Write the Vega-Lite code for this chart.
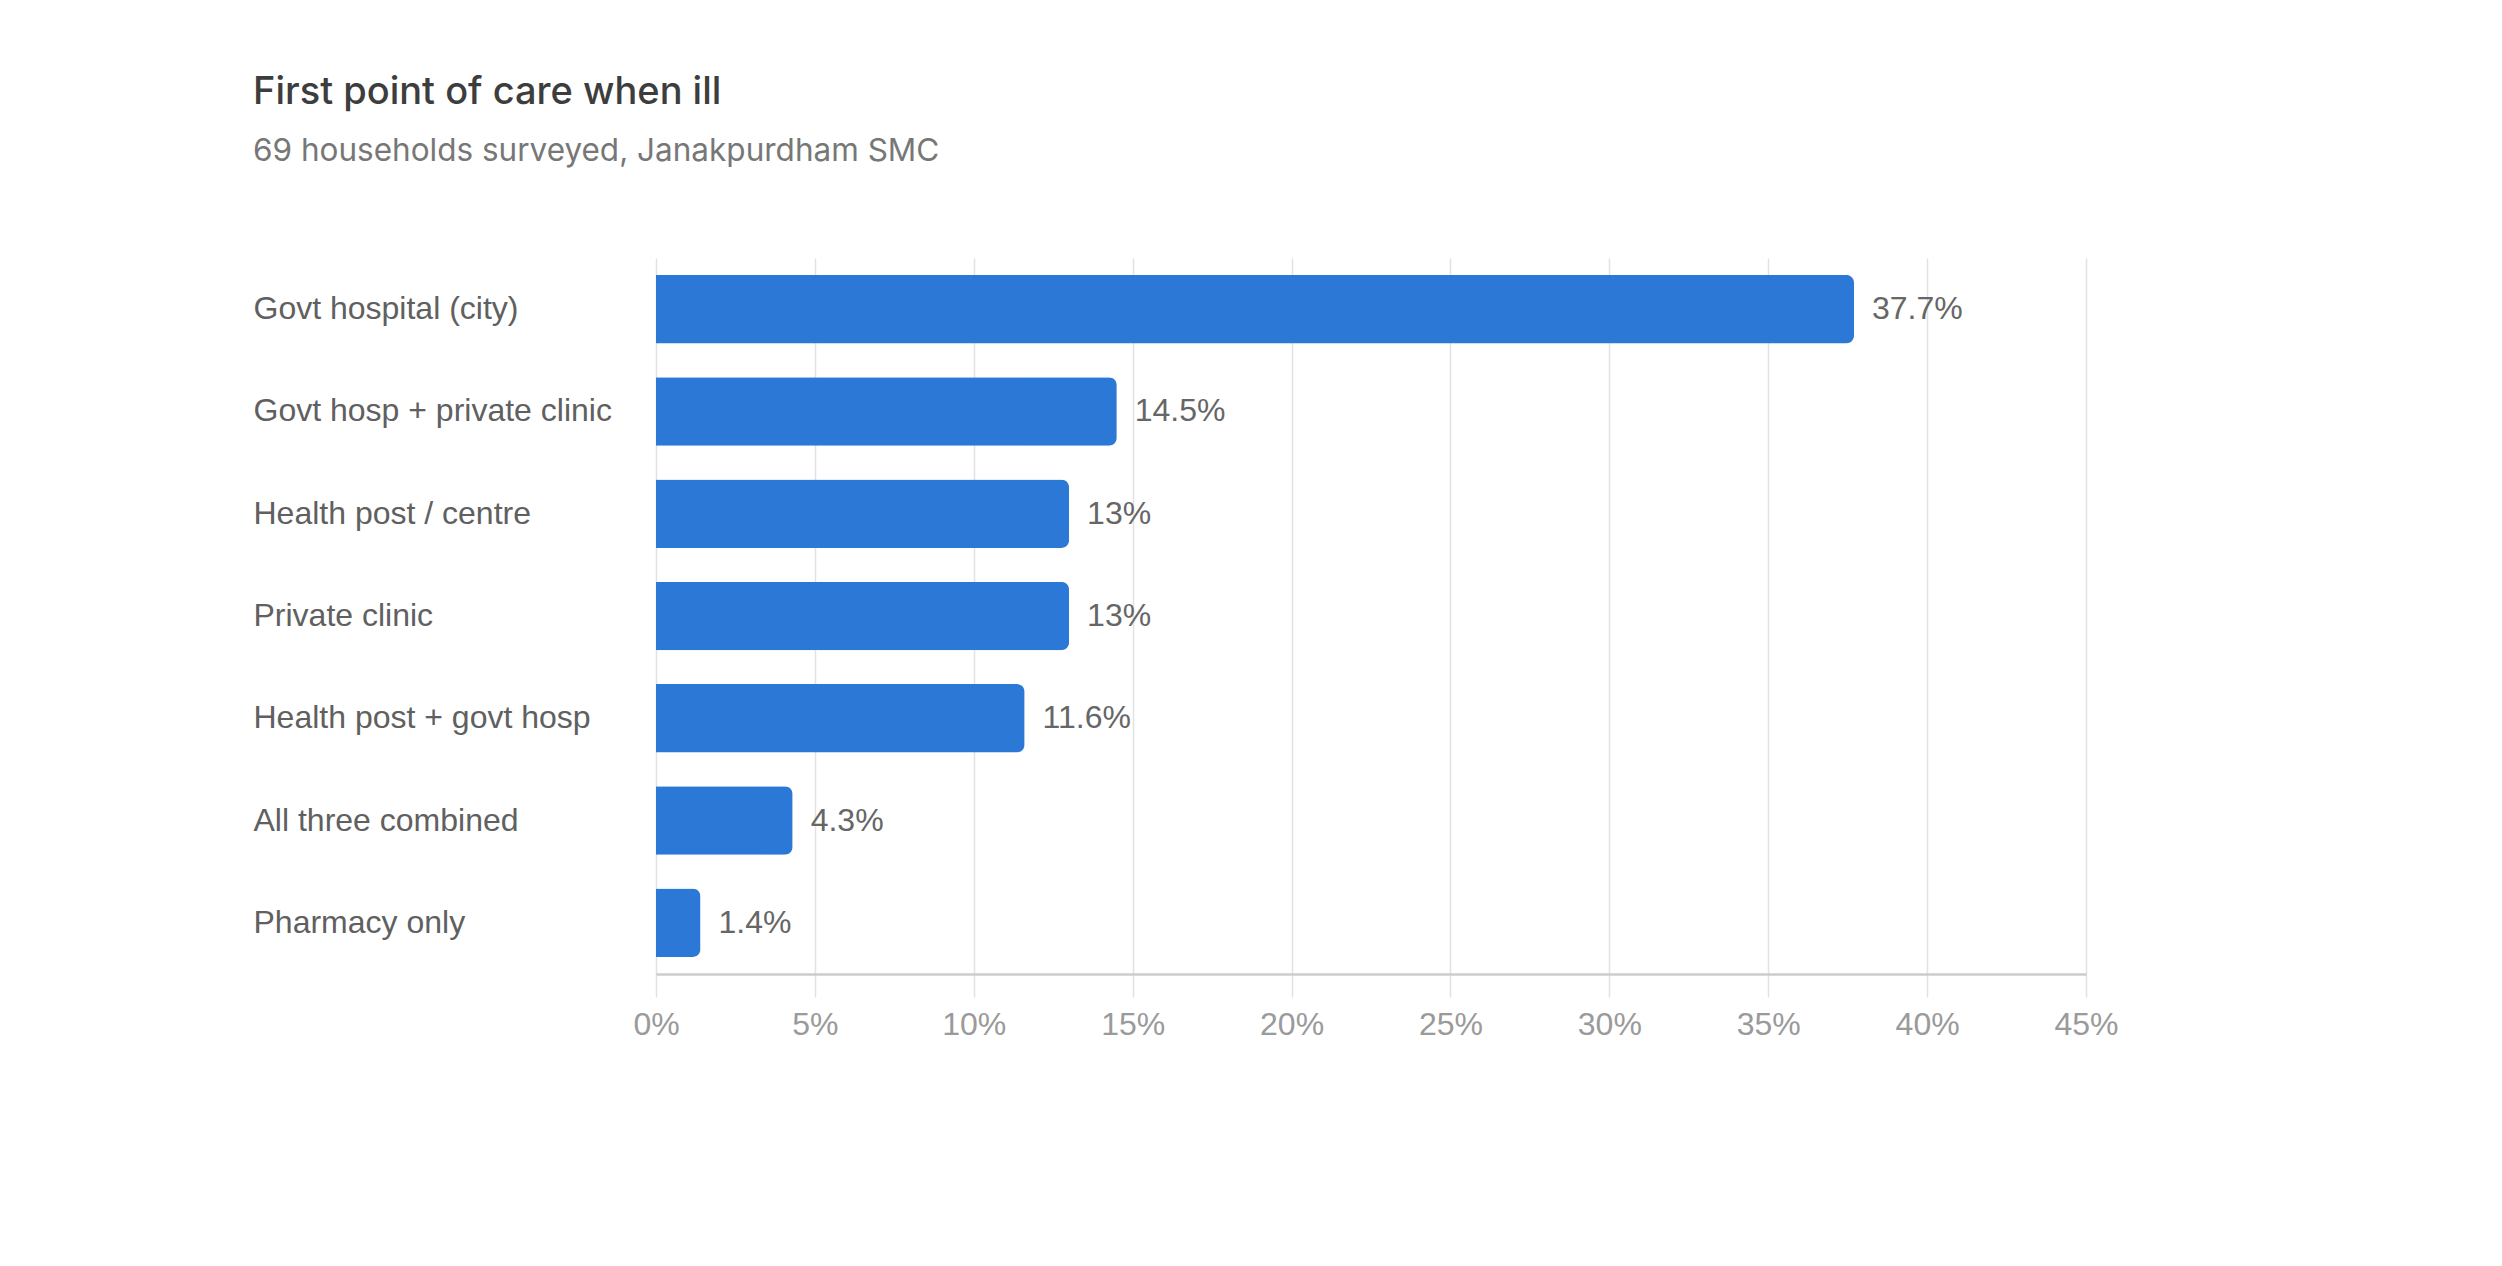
{
  "$schema": "https://vega.github.io/schema/vega-lite/v6.json",
  "width": 1430,
  "height": 716,
  "autosize": {"type": "none"},
  "padding": {"left": 656, "top": 258, "right": 416, "bottom": 292},
  "background": "white",
  "view": {"stroke": null},
  "title": {
    "text": "First point of care when ill",
    "subtitle": "69 households surveyed, Janakpurdham SMC",
    "anchor": "start",
    "frame": "group",
    "dx": -403,
    "offset": 91,
    "font": "Inter",
    "fontSize": 38,
    "fontWeight": 500,
    "color": "#3d3d3d",
    "subtitleFont": "Inter",
    "subtitleFontSize": 31.5,
    "subtitleColor": "#777777",
    "subtitlePadding": 24
  },
  "data": {
    "values": [
      {"source": "Govt hospital (city)", "share": 0.377},
      {"source": "Govt hosp + private clinic", "share": 0.145},
      {"source": "Health post / centre", "share": 0.13},
      {"source": "Private clinic", "share": 0.13},
      {"source": "Health post + govt hosp", "share": 0.116},
      {"source": "All three combined", "share": 0.043},
      {"source": "Pharmacy only", "share": 0.014}
    ]
  },
  "encoding": {
    "y": {
      "field": "source",
      "type": "nominal",
      "sort": null,
      "title": null,
      "scale": {"paddingInner": 0.33, "paddingOuter": 0.165},
      "axis": {
        "domain": false,
        "ticks": false,
        "tickSize": 0,
        "grid": false,
        "labelAlign": "left",
        "labelPadding": 403,
        "labelFont": "Liberation Sans",
        "labelFontSize": 32,
        "labelColor": "#606060",
        "labelLimit": 500
      }
    },
    "x": {
      "field": "share",
      "type": "quantitative",
      "title": null,
      "scale": {"domain": [0, 0.45], "nice": false},
      "axis": {
        "values": [0, 0.05, 0.1, 0.15, 0.2, 0.25, 0.3, 0.35, 0.4, 0.45],
        "format": ".0%",
        "grid": true,
        "gridColor": "#e2e2e2",
        "gridWidth": 1.5,
        "domainColor": "#cccccc",
        "domainWidth": 2.5,
        "tickColor": "#e2e2e2",
        "tickWidth": 1.5,
        "tickSize": 23,
        "labelFlush": false,
        "labelPadding": 12,
        "labelFont": "Liberation Sans",
        "labelFontSize": 32,
        "labelColor": "#9a9a9a"
      }
    }
  },
  "layer": [
    {
      "mark": {"type": "bar", "color": "#2c78d6", "cornerRadiusEnd": 8}
    },
    {
      "mark": {
        "type": "text",
        "align": "left",
        "baseline": "middle",
        "dx": 18,
        "font": "Liberation Sans",
        "fontSize": 32,
        "color": "#666666"
      },
      "encoding": {
        "text": {"field": "share", "type": "quantitative", "format": ".1~%"}
      }
    }
  ]
}
